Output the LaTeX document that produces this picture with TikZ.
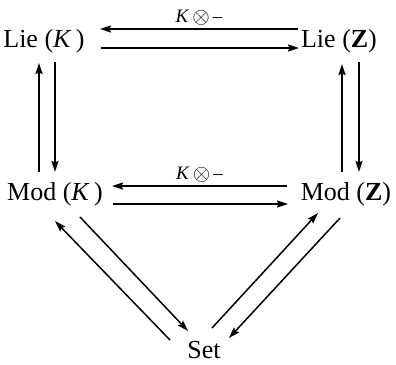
\documentclass[tikz,border=0pt]{standalone}
\usepackage{fontspec}
\setmainfont{Liberation Serif}
\usetikzlibrary{arrows.meta}
\newcommand{\ktens}{\textit{K}\,\raisebox{-0.12ex}{\scalebox{1.3}{$\otimes$}}\,–}
\tikzset{
  obj/.style={inner sep=0pt, anchor=base, font=\fontsize{26}{30}\selectfont},
  arr/.style={line width=1.5pt, -{Stealth[length=11pt,width=7pt,inset=1.5pt]}},
  lab/.style={font=\fontsize{19}{22}\selectfont, inner sep=1pt}
}
\begin{document}
\begin{tikzpicture}[x=1pt,y=-1pt]
\useasboundingbox (0,0) rectangle (396,364);
\node[obj] (LK) at (44,47) {Lie (\textit{K}\,)};
\node[obj] (LZ) at (339,47) {Lie (\textbf{Z})};
\node[obj] (MK) at (55,200) {Mod (\textit{K}\,)};
\node[obj] (MZ) at (346,200) {Mod (\textbf{Z})};
\node[obj] (S) at (204,358) {Set};
% top
\draw[arr] ([shift={(-41,-18)}]LZ.base) -- node[lab, above=2pt] {\ktens} ([shift={(56,-18)}]LK.base);
\draw[arr] ([shift={(57,1)}]LK.base) -- ([shift={(-40,1)}]LZ.base);
% left vertical
\draw[arr] ([shift={(-16,-28)}]MK.base) -- ([shift={(-5,16)}]LK.base);
\draw[arr] ([shift={(11,15)}]LK.base) -- ([shift={(0,-28)}]MK.base);
% right vertical
\draw[arr] ([shift={(-4,-28)}]MZ.base) -- ([shift={(3,17)}]LZ.base);
\draw[arr] ([shift={(20,15)}]LZ.base) -- ([shift={(13,-28)}]MZ.base);
% middle
\draw[arr] ([shift={(-59,-14)}]MZ.base) -- node[lab, above=2pt] {\ktens} ([shift={(57,-14)}]MK.base);
\draw[arr] ([shift={(58,4)}]MK.base) -- ([shift={(-58,4)}]MZ.base);
% diagonals
\draw[arr] ([shift={(-34,-18)}]S.base) -- ([shift={(0,21)}]MK.base);
\draw[arr] ([shift={(25,17)}]MK.base) -- ([shift={(-16,-27)}]S.base);
\draw[arr] ([shift={(8,-30)}]S.base) -- ([shift={(-28,13)}]MZ.base);
\draw[arr] ([shift={(-6,18)}]MZ.base) -- ([shift={(25,-20)}]S.base);
\end{tikzpicture}
\end{document}
